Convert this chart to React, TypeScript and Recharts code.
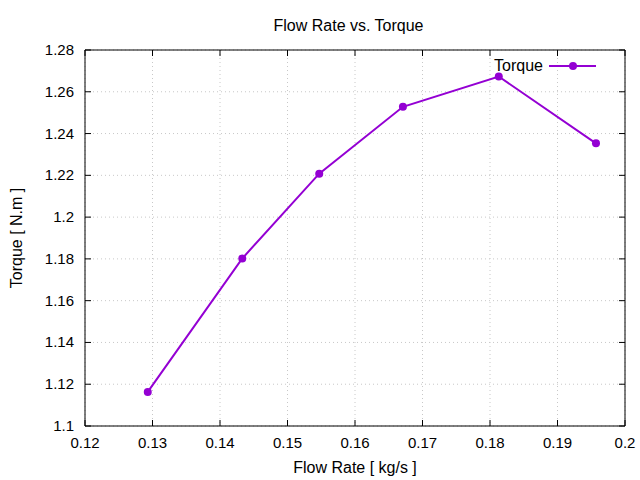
import React from "react";
import {
    LineChart,
    Line,
    XAxis,
    YAxis,
    CartesianGrid,
    Legend,
    ReferenceArea,
} from "recharts";

const flowRate = [0.1293, 0.1433, 0.1547, 0.1671, 0.1813, 0.1957];
const torque = [1.1163, 1.1802, 1.2208, 1.2528, 1.2673, 1.2353];
const xTicks = [0.12, 0.13, 0.14, 0.15, 0.16, 0.17, 0.18, 0.19, 0.2];
const yTicks = [1.1, 1.12, 1.14, 1.16, 1.18, 1.2, 1.22, 1.24, 1.26, 1.28];

const data = flowRate.map((f, i) => ({ flow: f, torque: torque[i] }));

const FONT = "'Liberation Sans', Arial, sans-serif";
const COLOR = "#9400d3";
// plot box (gnuplot style border, ticks pointing in on all four sides)
const TOP = 50;
const LEFT = 85;
const PLOT_W = 540;
const PLOT_H = 376;
const TICK = 6;

function BottomTick({ x, y, payload }: any) {
    return (
        <g>
            <line x1={x} y1={y} x2={x} y2={y - TICK} stroke="#000" />
            <line x1={x} y1={y - PLOT_H} x2={x} y2={y - PLOT_H + TICK} stroke="#000" />
            <text x={x} y={y + 22} textAnchor="middle" fill="#000" fontSize={15} fontFamily={FONT}>
                {String(payload.value)}
            </text>
        </g>
    );
}

function LeftTick({ x, y, payload }: any) {
    return (
        <g>
            <line x1={x} y1={y} x2={x + TICK} y2={y} stroke="#000" />
            <line x1={x + PLOT_W} y1={y} x2={x + PLOT_W - TICK} y2={y} stroke="#000" />
            <text x={x - 11} y={y + 5} textAnchor="end" fill="#000" fontSize={15} fontFamily={FONT}>
                {String(payload.value)}
            </text>
        </g>
    );
}

function TorqueLegend({ payload }: any) {
    const item = payload && payload[0];
    return (
        <div style={{ display: "flex", justifyContent: "flex-end", alignItems: "center" }}>
            <span style={{ fontFamily: FONT, fontSize: 16, color: "#000", marginRight: 6, lineHeight: "18px" }}>
                {item ? item.value : "Torque"}
            </span>
            <svg width={47} height={10}>
                <line x1={0} y1={5} x2={47} y2={5} stroke={COLOR} strokeWidth={2} />
                <circle cx={24} cy={5} r={4} fill={COLOR} />
            </svg>
        </div>
    );
}

export default function App() {
    return (
        <div style={{ position: "relative", width: 640, height: 480, background: "#fff" }}>
            <style>{`body{margin:0}`}</style>
            <div
                style={{
                    position: "absolute",
                    top: 17,
                    left: 0,
                    width: 697,
                    textAlign: "center",
                    fontFamily: FONT,
                    fontSize: 16,
                    color: "#000",
                }}
            >
                Flow Rate vs. Torque
            </div>
            <LineChart
                width={640}
                height={480}
                data={data}
                margin={{ top: TOP, right: 640 - LEFT - PLOT_W, left: 0, bottom: 0 }}
            >
                <CartesianGrid
                    stroke="#c8c8c8"
                    strokeDasharray="1 3"
                    horizontalValues={yTicks}
                    verticalValues={xTicks}
                />
                <XAxis
                    type="number"
                    dataKey="flow"
                    domain={[0.12, 0.2]}
                    ticks={xTicks}
                    height={480 - TOP - PLOT_H}
                    axisLine={false}
                    tickLine={false}
                    tickSize={0}
                    tickMargin={0}
                    tick={<BottomTick />}
                    interval={0}
                    label={{
                        value: "Flow Rate [ kg/s ]",
                        position: "insideBottom",
                        offset: 7,
                        fill: "#000",
                        fontSize: 16,
                        fontFamily: FONT,
                    }}
                />
                <YAxis
                    type="number"
                    domain={[1.1, 1.28]}
                    ticks={yTicks}
                    width={LEFT}
                    axisLine={false}
                    tickLine={false}
                    tickSize={0}
                    tickMargin={0}
                    tick={<LeftTick />}
                    interval={0}
                    label={{
                        value: "Torque [ N.m ]",
                        angle: -90,
                        position: "insideLeft",
                        offset: 16,
                        style: { textAnchor: "middle" },
                        fill: "#000",
                        fontSize: 16,
                        fontFamily: FONT,
                    }}
                />
                <ReferenceArea
                    x1={0.12}
                    x2={0.2}
                    y1={1.1}
                    y2={1.28}
                    fill="none"
                    fillOpacity={0}
                    stroke="#000"
                    strokeWidth={1}
                    ifOverflow="visible"
                />
                <Legend
                    layout="horizontal"
                    verticalAlign="middle"
                    align="center"
                    content={<TorqueLegend />}
                    wrapperStyle={{ top: 57, left: 400, width: 196 }}
                />
                <Line
                    type="linear"
                    dataKey="torque"
                    name="Torque"
                    stroke={COLOR}
                    strokeWidth={2}
                    dot={{ r: 4, fill: COLOR, stroke: COLOR, strokeWidth: 0 }}
                    activeDot={false}
                    isAnimationActive={false}
                />
            </LineChart>
        </div>
    );
}
